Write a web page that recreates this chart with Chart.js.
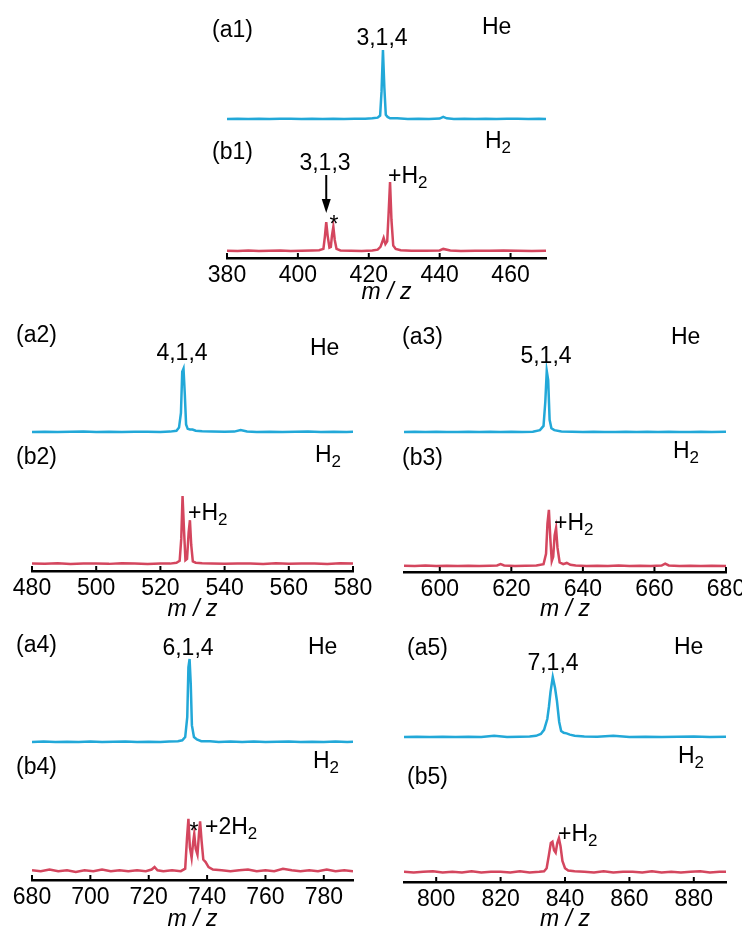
<!DOCTYPE html>
<html>
<head>
<meta charset="utf-8">
<title>m/z spectra, He vs H2</title>
<script src="https://cdn.jsdelivr.net/npm/chart.js@4.4.1/dist/chart.umd.min.js"></script>
<style>
  html, body { margin: 0; padding: 0; background: #fff; }
  body { position: relative; width: 742px; height: 929px; overflow: hidden; }
  canvas { position: absolute; }
</style>
</head>
<body>
<canvas id="p1"></canvas>
<canvas id="p2"></canvas>
<canvas id="p3"></canvas>
<canvas id="p4"></canvas>
<canvas id="p5"></canvas>
<script>
// ---- Spectra: m/z positions and relative intensities ----
// (a1) He / (b1) H2, 3,1,4 cluster
const mz_a1  = [380,383,386,389,392,395,398,401,404,407,410,413,416,419,
                421,422.5,423.2,423.6,424.0,424.4,424.8,425.3,426,428,
                431,434,437,440,441,442,444,447,
                450,453,456,459,462,465,468,470];
const int_a1 = [0,0.5,0,0.4,0,0.3,0.5,0,0.4,0,0.5,0,0.3,0.5,
                1,2,5,40,100,45,6,3,1,1,
                0,0.5,0,0.6,3,1,0,0.4,
                0,0.5,0,0.3,0.5,0,0.4,0];
const mz_b1  = [380,383,386,389,392,395,398,401,404,406,
                407.2,407.6,408.0,408.4,408.9,409.3,409.6,410.0,410.4,410.9,
                412,415,418,421,422.5,423.3,423.8,424.2,424.7,425.2,
                425.6,426.0,426.4,426.9,427.6,429,432,436,440,441,
                443,446,450,454,458,462,466,470];
const int_b1 = [0.5,0,0.6,0,0.4,0.8,0,0.5,0.7,1,
                3,20,42,22,5,6,22,35,16,3,
                0.8,0.5,0,0.6,2,6,13,19,10,14,
                55,100,45,8,3,1,0.2,0.5,0.8,3,
                0.6,0,0.5,0.2,0.7,0.4,0,0.5];

// (a2) / (b2), 4,1,4 cluster
const mz_a2  = [480,484,488,492,496,500,504,508,512,516,
                520,523,525,525.8,526.4,526.8,527.2,527.6,528,528.5,
                529.2,530,531,533,536,540,543,545,547,550,
                554,558,562,566,570,574,578,580];
const int_a2 = [0,0.5,0,0.2,0.6,0,0.4,0,0.3,0.5,
                0,0.6,2,7,30,95,100,60,12,5,
                4,4,2,1,0.8,0.3,0.6,3,0.8,0,
                0.5,0,0.3,0.6,0,0.4,0,0.2];
const mz_b2  = [480,484,488,492,496,500,504,508,512,516,
                520,523,525,526,526.5,526.9,527.3,527.8,528.3,528.8,
                529.2,529.6,530.1,531,533,536,540,544,548,552,
                556,560,564,568,572,576,580];
const int_b2 = [0.8,0.2,1.2,0,0.6,0.9,0.2,1.3,0.7,0,
                0.8,0.6,2,5,40,107,60,6,8,50,
                69,30,4,2,1,0.8,0.2,0.9,0.6,0,
                1.2,0.2,0.7,0.8,0.1,1.2,0.6];

// (a3) / (b3), 5,1,4 cluster
const mz_a3  = [590,593,596,599,602,605,608,611,614,617,
                620,623,626,628,629,629.5,629.9,630.3,630.7,631.2,
                632,634,637,640,643,646,649,652,655,658,
                661,664,667,670,673,676,680];
const int_a3 = [0,0.5,0,0.4,0,0.2,0.6,0,0.5,0,
                0.4,0,0.6,3,10,50,100,85,20,6,
                3,1,0.6,0,0.5,0,0.2,0.6,0,0.4,
                0,0.5,0,0.2,0.6,0,0.4];
const mz_b3  = [590,593,596,599,602,605,608,611,614,616,
                617,618,621,624,627,629,629.7,630.1,630.5,630.9,
                631.3,631.7,632.1,632.5,632.9,633.5,634.5,635.5,636.5,638,
                641,644,647,650,653,656,659,662,663,664,
                667,670,673,676,680];
const int_b3 = [0.6,0,0.7,0,0.5,0.2,0.6,0,0.5,0.8,
                3,1,0.2,0.6,1,3,20,70,92,45,
                8,15,50,62,30,6,3,5,2,1,
                0.2,0.6,0,0.7,0.2,0.5,0,0.8,4,1,
                0.2,0.6,0,0.5,0.2];

// (a4) / (b4), 6,1,4 cluster
const mz_a4  = [680,684,688,692,696,700,704,708,712,716,
                720,724,727,730,731.5,732.5,733.2,733.6,734,734.4,
                734.8,735.5,736.5,738,741,744,748,752,756,760,
                764,768,772,776,780,784,788,790];
const int_a4 = [0,0.5,0,0.4,0,0.6,0,0.2,0.5,0,
                0.4,0,0.6,1,2,6,30,90,100,70,
                20,6,3,1,0.8,0,0.5,0,0.6,0,
                0.2,0.5,0,0.4,0,0.6,0,0.3];
const mz_b4  = [680,683,686,689,692,695,698,701,704,707,
                710,713,716,719,721,722,723,725,728,731,
                732.5,733.1,733.6,734.1,734.7,735.2,735.6,736.1,736.7,737.2,
                737.6,738.1,738.7,739.5,740.5,742,745,748,751,754,
                757,760,763,766,769,772,775,778,781,784,
                787,790];
const int_b4 = [2,1,3,1,2,0,2,1,3,1,
                2,1,2,1,3,6,2,1,2,1,
                4,40,64,30,17,35,46,28,21,45,
                61,38,15,12,6,3,2,1,2,3,
                1,2,1,4,2,1,2,1,3,1,
                2,1];

// (a5) / (b5), 7,1,4 cluster
const mz_a5  = [790,794,798,802,806,810,814,818,822,826,
                829,831,832.5,833.5,834.5,835,835.5,836.2,836.9,837.5,
                838.2,838.8,839.6,840.5,841.5,843,846,850,855,860,
                865,870,875,880,885,890];
const int_a5 = [0,0.5,0,0.6,0,0.4,0,2,0,0.6,
                1,2,5,12,30,50,75,100,82,60,
                25,10,7,6,4,2,1,0.3,2,0,
                0.6,0,0.5,0.8,0,0.4];
const mz_b5  = [790,793,796,799,802,805,808,811,814,817,
                820,823,826,829,832,833.5,834.3,835,835.6,836.1,
                836.6,837.1,837.6,838.1,838.6,839.2,840,841,843,846,
                849,852,855,858,861,864,867,870,873,876,
                879,882,885,888,890];
const int_b5 = [2,1,2,3,1,2,1,3,1,2,
                2,1,3,1,2,3,8,30,50,52,
                38,34,50,58,45,20,8,4,3,2,
                1,3,1,2,2,1,3,1,2,1,
                2,3,1,2,2];

// x-axis ranges and labelled ticks
const xRanges = [[380,470],[480,580],[590,680],[680,790],[790,890]];
const ticks_1 = [380,400,420,440,460];
const ticks_2 = [480,500,520,540,560,580];
const ticks_3 = [600,620,640,660,680];
const ticks_4 = [680,700,720,740,760,780];
const ticks_5 = [800,820,840,860,880];

// ---- Layout and styling ----
const FONT = '"Liberation Sans", Arial, Helvetica, sans-serif';
const FS = 23;
const BLUE = '#22a8d8';
const RED = '#d4465e';
const AXIS_H = 48;   // height reserved below the plot for ticks and title
const PAD_L = 24, PAD_R = 24;

const panels = [
  { id: 'p1', he: [mz_a1, int_a1], h2: [mz_b1, int_b1], range: xRanges[0], ticks: ticks_1,
    axisLeft: 227, axisRight: 546, top: 0, axisY: 258, heBase: 119, h2Base: 251, ppu: 0.69, titleY: 293,
    texts: [
      { s: '(a1)', x: 212, y: 29, a: 'left' },
      { s: '3,1,4', x: 382, y: 37, a: 'center' },
      { s: 'He', x: 482, y: 26, a: 'left' },
      { s: 'H_2', x: 485, y: 140, a: 'left' },
      { s: '(b1)', x: 212, y: 151, a: 'left' },
      { s: '3,1,3', x: 325, y: 162, a: 'center' },
      { s: '*', x: 334, y: 224, a: 'center' },
      { s: '+H_2', x: 388, y: 175, a: 'left' }
    ],
    arrow: { mz: 408, y1: 175, y2: 213 } },
  { id: 'p2', he: [mz_a2, int_a2], h2: [mz_b2, int_b2], range: xRanges[1], ticks: ticks_2,
    axisLeft: 32, axisRight: 353, top: 320, axisY: 571, heBase: 432, h2Base: 564, ppu: 0.634, titleY: 610,
    texts: [
      { s: '(a2)', x: 16, y: 334, a: 'left' },
      { s: '4,1,4', x: 182, y: 352, a: 'center' },
      { s: 'He', x: 310, y: 347, a: 'left' },
      { s: 'H_2', x: 315, y: 454, a: 'left' },
      { s: '(b2)', x: 16, y: 456, a: 'left' },
      { s: '+H_2', x: 188, y: 512, a: 'left' }
    ] },
  { id: 'p3', he: [mz_a3, int_a3], h2: [mz_b3, int_b3], range: xRanges[2], ticks: ticks_3,
    axisLeft: 404, axisRight: 726, top: 320, axisY: 572, heBase: 432, h2Base: 566, ppu: 0.61, titleY: 610,
    texts: [
      { s: '(a3)', x: 402, y: 336, a: 'left' },
      { s: '5,1,4', x: 546, y: 355, a: 'center' },
      { s: 'He', x: 671, y: 336, a: 'left' },
      { s: 'H_2', x: 673, y: 450, a: 'left' },
      { s: '(b3)', x: 402, y: 457, a: 'left' },
      { s: '+H_2', x: 554, y: 522, a: 'left' }
    ] },
  { id: 'p4', he: [mz_a4, int_a4], h2: [mz_b4, int_b4], range: xRanges[3], ticks: ticks_4,
    axisLeft: 32, axisRight: 353, top: 625, axisY: 880, heBase: 742, h2Base: 872, ppu: 0.83, titleY: 920,
    texts: [
      { s: '(a4)', x: 16, y: 644, a: 'left' },
      { s: '6,1,4', x: 188, y: 647, a: 'center' },
      { s: 'He', x: 308, y: 646, a: 'left' },
      { s: 'H_2', x: 313, y: 760, a: 'left' },
      { s: '(b4)', x: 16, y: 766, a: 'left' },
      { s: '*', x: 194, y: 831, a: 'center' },
      { s: '+2H_2', x: 205, y: 826, a: 'left' }
    ] },
  { id: 'p5', he: [mz_a5, int_a5], h2: [mz_b5, int_b5], range: xRanges[4], ticks: ticks_5,
    axisLeft: 404, axisRight: 726, top: 625, axisY: 882, heBase: 737, h2Base: 873, ppu: 0.6, titleY: 920,
    texts: [
      { s: '(a5)', x: 407, y: 647, a: 'left' },
      { s: '7,1,4', x: 553, y: 662, a: 'center' },
      { s: 'He', x: 674, y: 646, a: 'left' },
      { s: 'H_2', x: 678, y: 755, a: 'left' },
      { s: '(b5)', x: 407, y: 776, a: 'left' },
      { s: '+H_2', x: 558, y: 833, a: 'left' }
    ] }
];

// Split "+2H_2" into normal and subscript runs
function parseRuns(str) {
  const runs = [];
  for (let i = 0; i < str.length; i++) {
    if (str[i] === '_') { runs.push({ t: str[i + 1], sub: true }); i++; }
    else if (runs.length && !runs[runs.length - 1].sub) runs[runs.length - 1].t += str[i];
    else runs.push({ t: str[i], sub: false });
  }
  return runs;
}

function drawText(ctx, spec, ox, oy) {
  const runs = parseRuns(spec.s);
  const fMain = FS + 'px ' + FONT;
  const fSub = Math.round(FS * 0.75) + 'px ' + FONT;
  let total = 0;
  runs.forEach(r => { ctx.font = r.sub ? fSub : fMain; r.w = ctx.measureText(r.t).width; total += r.w; });
  let x = spec.x - ox - (spec.a === 'center' ? total / 2 : 0);
  const base = spec.y - oy + FS * 0.36;
  ctx.fillStyle = '#000';
  ctx.textAlign = 'left';
  ctx.textBaseline = 'alphabetic';
  runs.forEach(r => {
    ctx.font = r.sub ? fSub : fMain;
    ctx.fillText(r.t, x, r.sub ? base + 5 : base);
    x += r.w;
  });
}

function makeDecor(p, g) {
  return {
    id: 'decor_' + p.id,
    afterDraw(chart) {
      const ctx = chart.ctx;
      const xs = chart.scales.x;
      const area = chart.chartArea;
      ctx.save();
      // short inward tick marks on the m/z axis
      ctx.strokeStyle = '#000';
      ctx.lineWidth = 2;
      xs.ticks.forEach(t => {
        const px = xs.getPixelForValue(t.value);
        ctx.beginPath();
        ctx.moveTo(px, area.bottom);
        ctx.lineTo(px, area.bottom - 5);
        ctx.stroke();
      });
      // axis title
      ctx.fillStyle = '#000';
      ctx.font = 'italic ' + FS + 'px ' + FONT;
      ctx.textAlign = 'center';
      ctx.textBaseline = 'middle';
      ctx.fillText('m / z', (area.left + area.right) / 2, p.titleY - p.top);
      // labels
      p.texts.forEach(t => drawText(ctx, t, g.left, p.top));
      // arrow pointing at a peak
      if (p.arrow) {
        const ax = xs.getPixelForValue(p.arrow.mz);
        const y1 = p.arrow.y1 - p.top, y2 = p.arrow.y2 - p.top;
        ctx.strokeStyle = '#000';
        ctx.fillStyle = '#000';
        ctx.lineWidth = 2;
        ctx.beginPath();
        ctx.moveTo(ax, y1);
        ctx.lineTo(ax, y2 - 12);
        ctx.stroke();
        ctx.beginPath();
        ctx.moveTo(ax - 4.5, y2 - 14);
        ctx.lineTo(ax + 4.5, y2 - 14);
        ctx.lineTo(ax, y2);
        ctx.closePath();
        ctx.fill();
      }
      ctx.restore();
    }
  };
}

function pairs(xs, ys) { return xs.map((x, i) => ({ x: x, y: ys[i] })); }

panels.forEach(p => {
  const g = {
    left: p.axisLeft - PAD_L,
    width: (p.axisRight - p.axisLeft) + PAD_L + PAD_R,
    height: p.axisY - p.top + AXIS_H
  };
  const cv = document.getElementById(p.id);
  cv.width = g.width; cv.height = g.height;
  cv.style.left = g.left + 'px';
  cv.style.top = p.top + 'px';
  cv.style.width = g.width + 'px';
  cv.style.height = g.height + 'px';

  // vertical ranges so each trace's zero sits on its own baseline
  const span = base => ({ min: -(p.axisY - base) / p.ppu, max: (base - p.top) / p.ppu });
  const rHe = span(p.heBase), rH2 = span(p.h2Base);

  new Chart(cv, {
    type: 'line',
    data: {
      datasets: [
        { label: 'He', data: pairs(p.he[0], p.he[1]), yAxisID: 'yHe',
          borderColor: BLUE, borderWidth: 2.5, pointRadius: 0, tension: 0, fill: false },
        { label: 'H2', data: pairs(p.h2[0], p.h2[1]), yAxisID: 'yH2',
          borderColor: RED, borderWidth: 2.5, pointRadius: 0, tension: 0, fill: false }
      ]
    },
    options: {
      responsive: false,
      animation: false,
      events: [],
      layout: { padding: { left: PAD_L, right: PAD_R, top: 0, bottom: 0 } },
      plugins: { legend: { display: false }, tooltip: { enabled: false } },
      scales: {
        x: {
          type: 'linear', position: 'bottom',
          min: p.range[0], max: p.range[1],
          afterBuildTicks: s => { s.ticks = p.ticks.map(v => ({ value: v })); },
          afterFit: s => { s.height = AXIS_H; },
          grid: { display: false, drawTicks: false },
          border: { display: true, color: '#000', width: 2.6 },
          ticks: {
            autoSkip: false, maxRotation: 0, minRotation: 0, padding: 4,
            color: '#000', font: { family: FONT, size: FS }
          }
        },
        yHe: { display: false, min: rHe.min, max: rHe.max },
        yH2: { display: false, min: rH2.min, max: rH2.max }
      }
    },
    plugins: [makeDecor(p, g)]
  });
});
</script>
</body>
</html>
